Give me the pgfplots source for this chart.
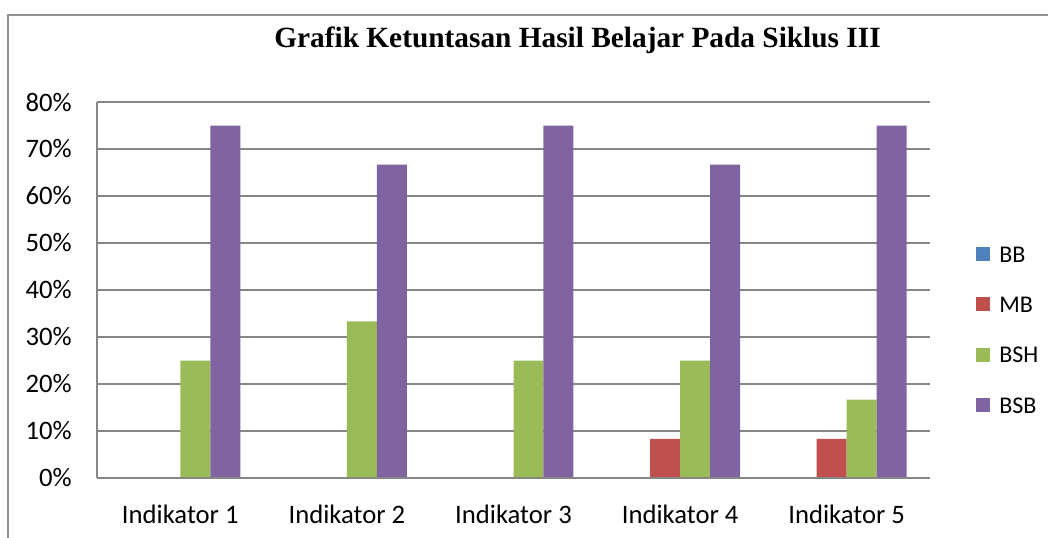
\documentclass[border=0pt]{standalone}
\usepackage{fontspec}
\setmainfont{Carlito}
\newfontfamily\titlefont{Liberation Serif}
\usepackage{pgfplots}
\pgfplotsset{compat=1.18}
\definecolor{bbblue}{RGB}{79,129,189}
\definecolor{mbred}{RGB}{192,80,77}
\definecolor{bshgreen}{RGB}{155,187,89}
\definecolor{bsbpurple}{RGB}{128,100,162}
\definecolor{gridgray}{RGB}{134,134,134}

\begin{document}
\begin{tikzpicture}[x=0.75pt,y=0.75pt]
  \begin{axis}[
    width=624.75pt,height=282pt,scale only axis,
    ybar=0pt,bar width=0.18,
    xmin=0.5,xmax=5.5,ymin=0,ymax=80,
    xtick={1,2,3,4,5},
    xticklabels={Indikator 1,Indikator 2,Indikator 3,Indikator 4,Indikator 5},
    ytick={0,10,...,80},
    yticklabels={0\%,10\%,20\%,30\%,40\%,50\%,60\%,70\%,80\%},
    axis x line*=bottom,axis y line*=left,
    axis line style={gridgray,line width=1pt},
    ymajorgrids,grid style={gridgray,line width=1pt},
    major tick length=0pt,
    tick label style={font=\fontsize{20}{24}\selectfont,inner sep=0pt},
    yticklabel style={xshift=-18.75pt},
    xticklabel style={yshift=-20pt},
    legend cell align=left,
    legend image code/.code={
      \fill[#1] (0pt,-5.25pt) rectangle (10.5pt,5.25pt);
      \path (17.25pt,0pt);
    },
    legend style={at={(axis description cs:1,0.395)},anchor=west,
      xshift=34.5pt,draw=none,fill=none,inner sep=0pt,row sep=25.1pt,
      nodes={inner sep=0pt,text height=12.5pt,text depth=0pt,
        font=\fontsize{18}{21}\selectfont}},
  ]
    \addplot[fill=bbblue,draw=none]
      coordinates {(1,0)(2,0)(3,0)(4,0)(5,0)};
    \addlegendentry{BB}
    \addplot[fill=mbred,draw=none]
      coordinates {(4,8.33)(5,8.33)};
    \addlegendentry{MB}
    \addplot[fill=bshgreen,draw=none]
      coordinates {(1,25)(2,33.33)(3,25)(4,25)(5,16.67)};
    \addlegendentry{BSH}
    \addplot[fill=bsbpurple,draw=none]
      coordinates {(1,75)(2,66.67)(3,75)(4,66.67)(5,75)};
    \addlegendentry{BSB}
    % redraw the base line over the empty (zero) bars
    \draw[gridgray,line width=1pt] (rel axis cs:0,0) -- (rel axis cs:1,0);
    \coordinate (LL) at (rel axis cs:0,0);
  \end{axis}
  % page laid out in reference pixels, relative to the axis corner
  \begin{scope}[shift={(LL)}]
    \pgfresetboundingbox
    \useasboundingbox (-97,-59) rectangle (951,478);
    \draw[gridgray!90,line width=1.5pt] (-89,-80) -- (-89,463) -- (980,463);
    \node[font=\titlefont\bfseries\fontsize{22}{26}\selectfont,anchor=base]
      at (480.5,431) {Grafik Ketuntasan Hasil Belajar Pada Siklus III};
  \end{scope}
\end{tikzpicture}
\end{document}
